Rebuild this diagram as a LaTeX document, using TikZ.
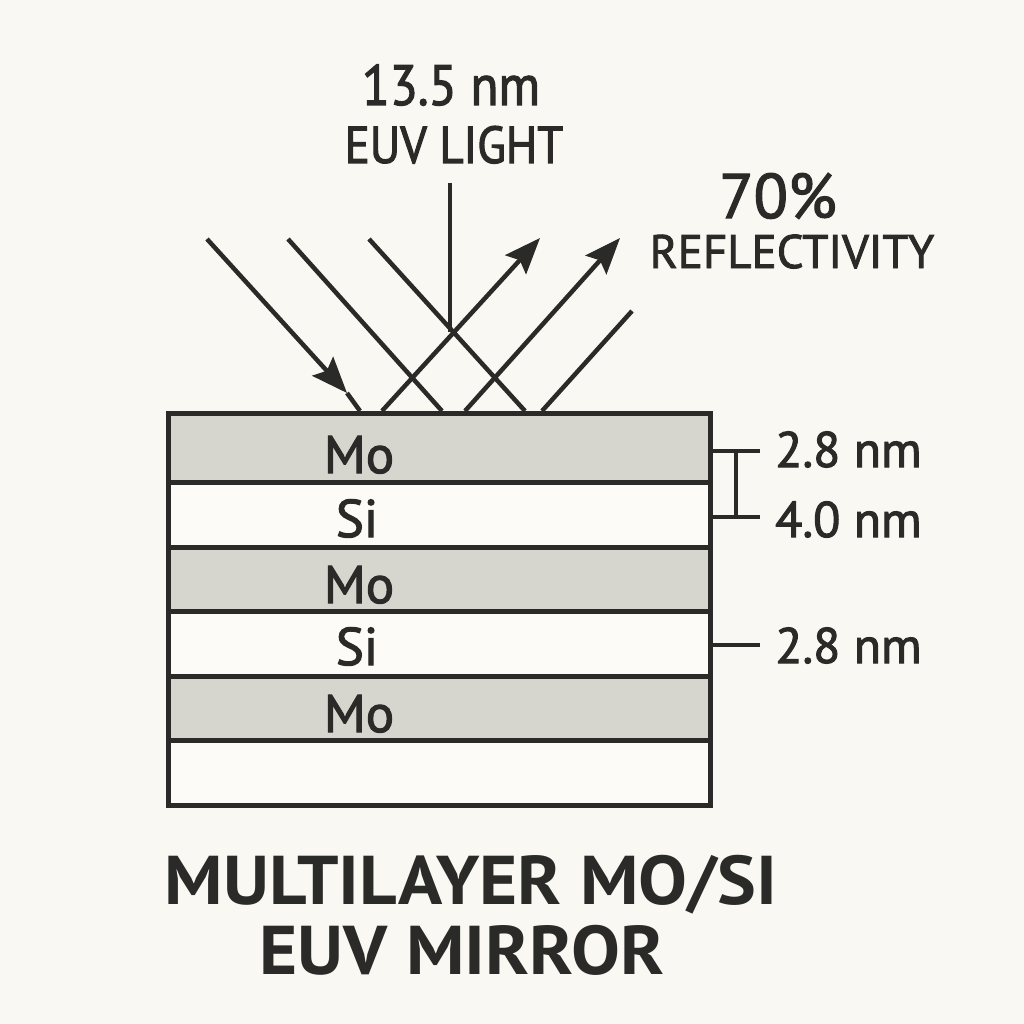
\documentclass[tikz,border=0pt]{standalone}
\usepackage{fontspec}
\setmainfont{PT Sans}
\newfontfamily\labfont[FakeBold=2]{PT Sans}
\newfontfamily\narrowfont[FakeStretch=0.9,FakeBold=2]{PT Sans}
\newfontfamily\titlefont[FakeStretch=1.06]{PT Sans}
\usepackage{tikz}
\usetikzlibrary{arrows.meta,calc}

\definecolor{paper}{HTML}{FAF8F2}
\definecolor{ink}{HTML}{2A2A28}
\definecolor{moGray}{HTML}{D6D6CF}
\definecolor{siWhite}{HTML}{FCFBF7}

\begin{document}
\begin{tikzpicture}[
  x=1pt,y=-1pt,
  ray/.style={draw=ink,line width=4.5pt},
  arr/.style={ray,-{Stealth[length=36pt,width=28pt,inset=6pt]}},
  edge/.style={draw=ink,line width=5pt},
  tick/.style={draw=ink,line width=3.5pt},
  lab/.style={anchor=base,inner sep=0pt,text=ink},
  layertxt/.style={lab,font=\labfont\fontsize{53}{60}\selectfont},
  dimtxt/.style={lab,anchor=base west,font=\labfont\fontsize{50}{60}\selectfont},
  titletxt/.style={lab,font=\titlefont\fontsize{69}{80}\selectfont\bfseries}
]
\fill[paper] (0,0) rectangle (1024,1024);
\useasboundingbox (0,0) rectangle (1024,1024);

% layer stack
\foreach \top/\bot/\col in {413/482/moGray,482/547/siWhite,547/611/moGray,611/676/siWhite,676/740/moGray,740/805/siWhite}
  \fill[\col] (168,\top) rectangle (710,\bot);
\foreach \yy in {482,547,611,676,740}
  \draw[edge] (168,\yy) -- (710,\yy);
\draw[edge] (168,413) rectangle (710,805);

\node[layertxt] (mo1) at (359,473) {Mo};
\node[layertxt] (si1) at (357,537) {Si};
\node[layertxt] (mo2) at (359,603) {Mo};
\node[layertxt] (si2) at (357,665) {Si};
\node[layertxt] (mo3) at (359,732) {Mo};

% rays
\coordinate (i1s) at (207,239); \coordinate (i1m) at (347,393); \coordinate (i1e) at (360,411);
\coordinate (i2s) at (288,239); \coordinate (i2e) at (442,411);
\coordinate (i3s) at (369,239); \coordinate (i3e) at (525,411);
\coordinate (r1s) at (382,411); \coordinate (r1e) at (540,238);
\coordinate (r2s) at (465,411); \coordinate (r2e) at (620,238);
\coordinate (r3s) at (542,411); \coordinate (r3e) at (632,311);
\coordinate (vs) at (450,183); \coordinate (ve) at (450,332);

\draw[arr] (i1s) -- (i1m);
\draw[ray] (i1m) -- (i1e);
\draw[ray] (i2s) -- (i2e);
\draw[ray] (i3s) -- (i3e);
\draw[arr] (r1s) -- (r1e);
\draw[arr] (r2s) -- (r2e);
\draw[ray] (r3s) -- (r3e);
\draw[ray] (vs) -- (ve);

\node[lab,font=\narrowfont\fontsize{57}{60}\selectfont] (wavelen) at (451,105) {13.5 nm};
\node[lab,font=\narrowfont\fontsize{52}{60}\selectfont] (euvlight) at (454,163) {EUV LIGHT};
\node[lab,font=\labfont\fontsize{63}{70}\selectfont] (pct) at (778,218) {70\%};
\node[lab,font=\labfont\fontsize{47}{50}\selectfont] (refl) at (792,268) {REFLECTIVITY};

% thickness marks
\coordinate (t1a) at (712,451); \coordinate (t1b) at (760,451);
\coordinate (t2a) at (712,517); \coordinate (t2b) at (760,517);
\coordinate (t3a) at (712,645); \coordinate (t3b) at (760,645);
\draw[tick] (t1a) -- (t1b);
\draw[tick] (t2a) -- (t2b);
\draw[tick] ($(t1a)!0.5!(t1b)$) -- ($(t2a)!0.5!(t2b)$);
\draw[tick] (t3a) -- (t3b);

\node[dimtxt] (d1) at (775,467) {2.8 nm};
\node[dimtxt] (d2) at (775,537) {4.0 nm};
\node[dimtxt] (d3) at (775,663) {2.8 nm};

\node[titletxt] (title1) at (471,904) {MULTILAYER MO/SI};
\node[titletxt] (title2) at (462,974) {EUV MIRROR};
\end{tikzpicture}
\end{document}
